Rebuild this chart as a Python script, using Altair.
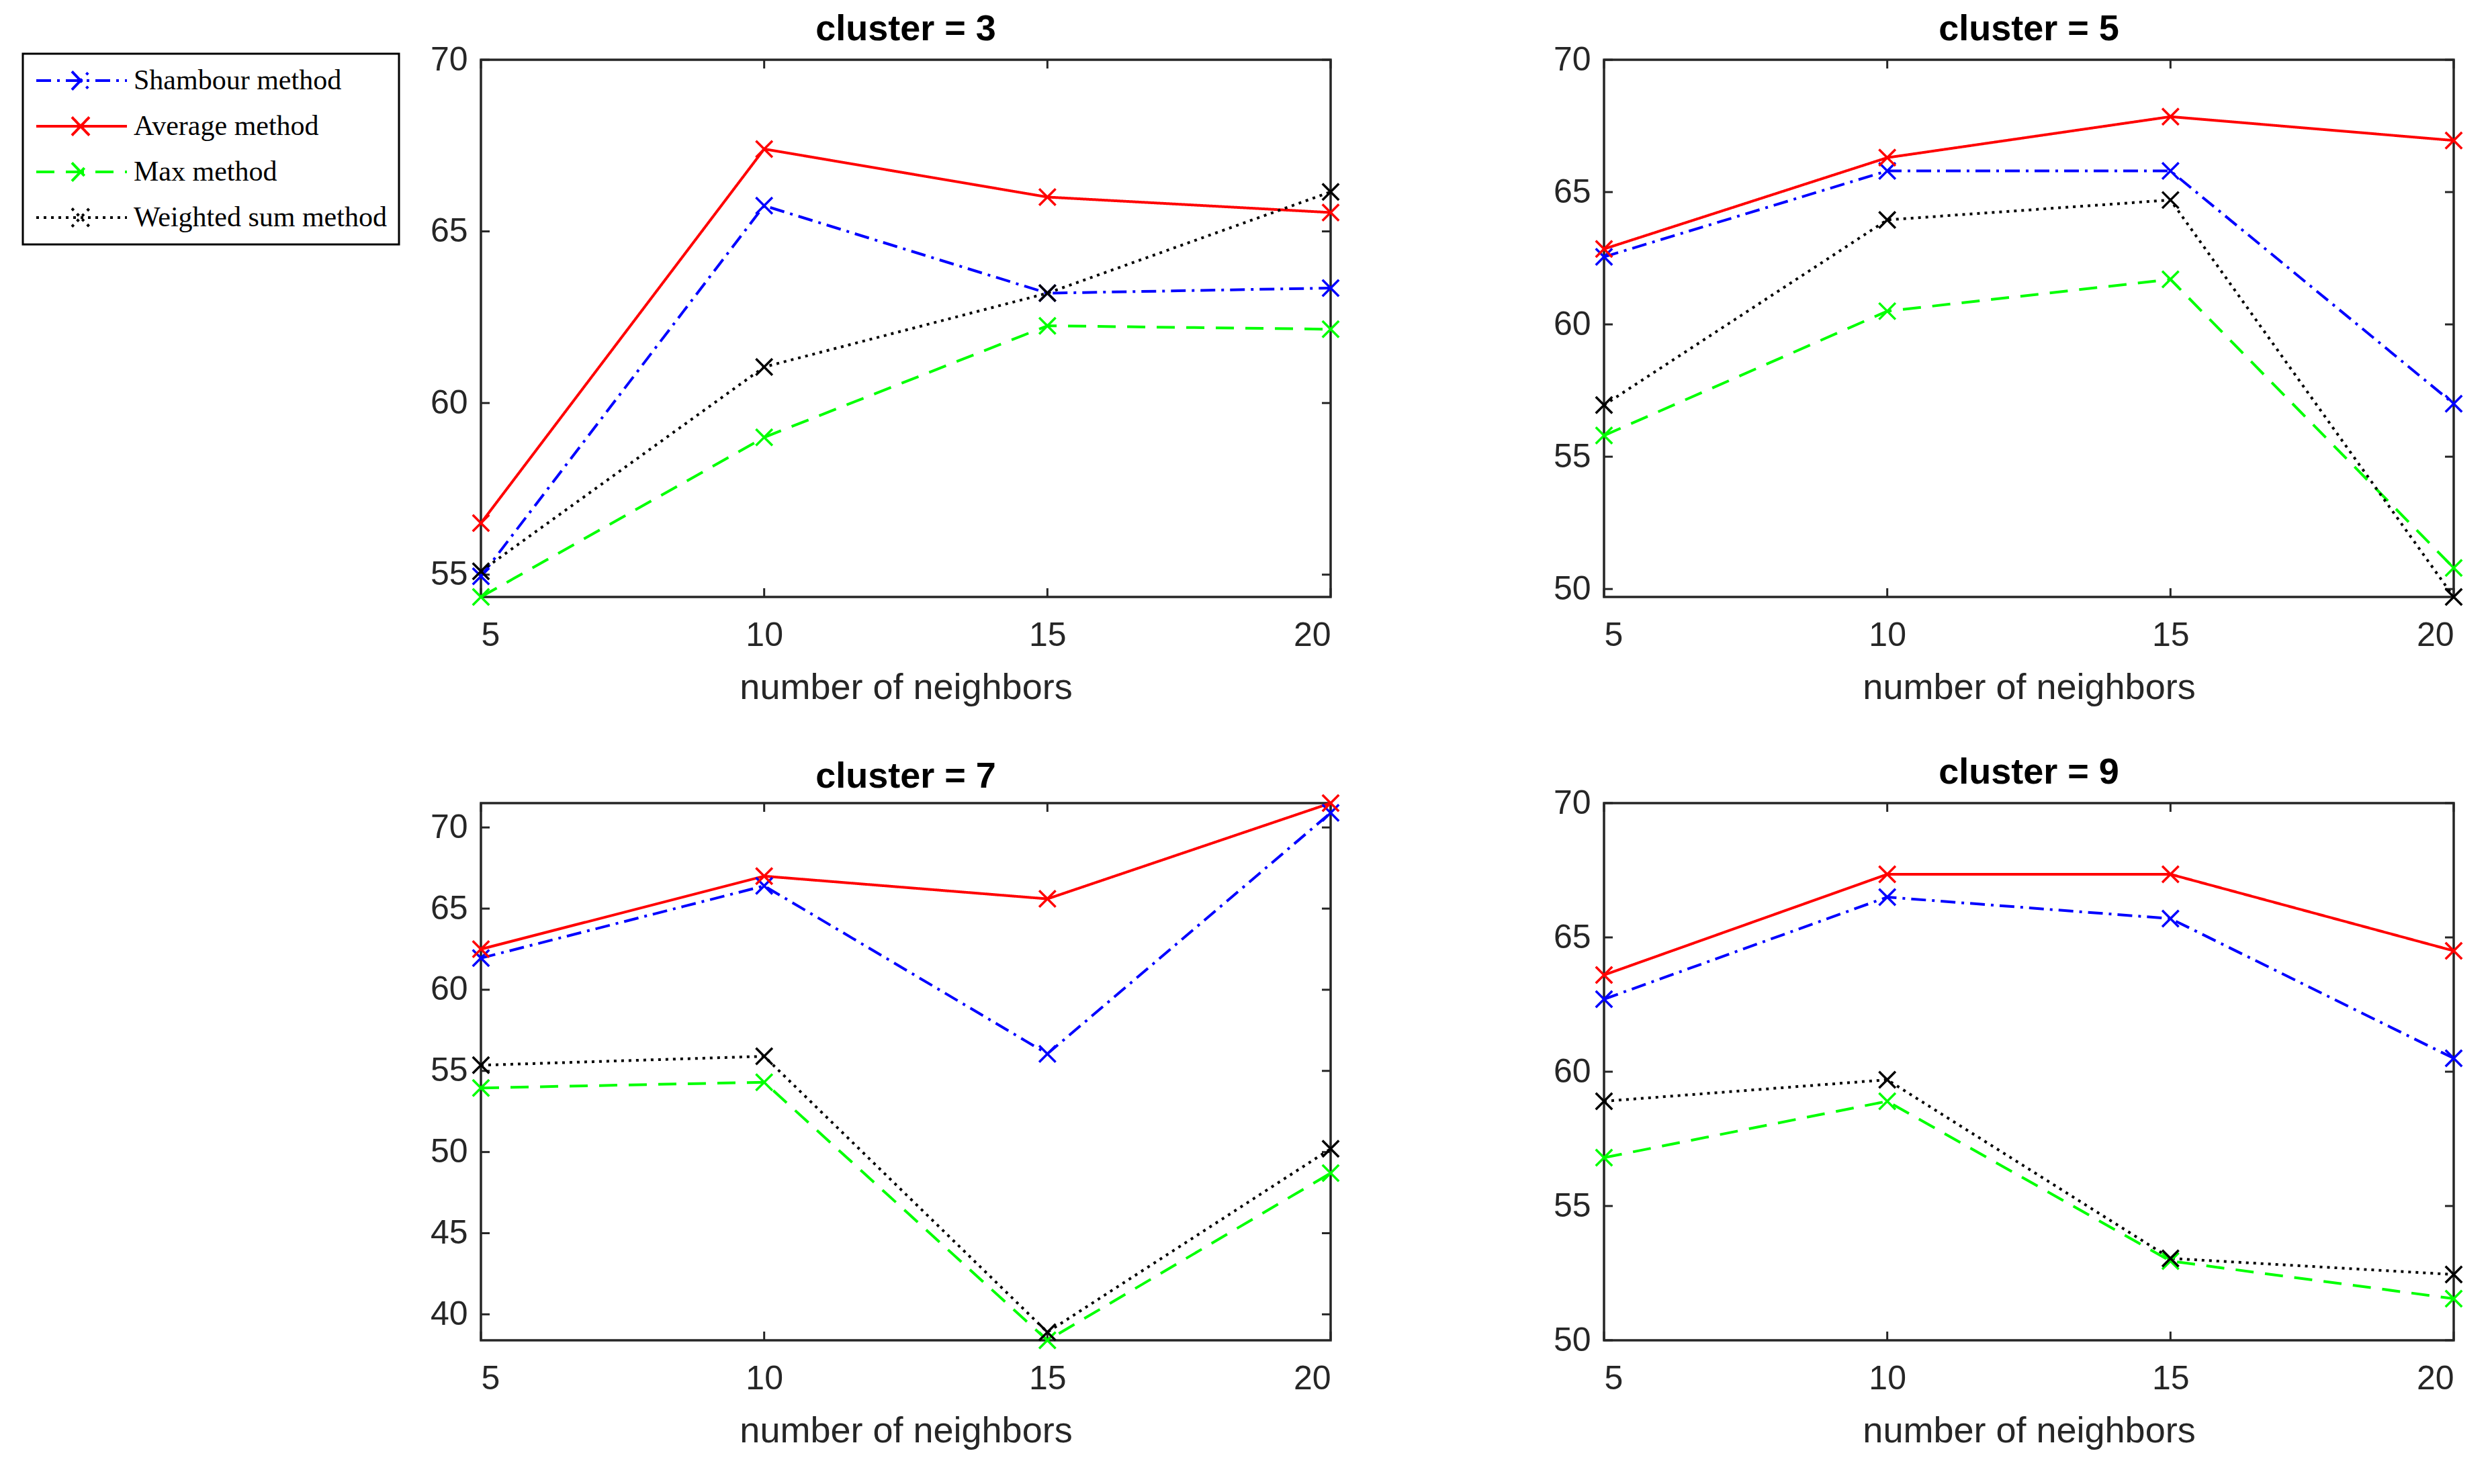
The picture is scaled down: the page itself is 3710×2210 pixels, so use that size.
import altair as alt
import pandas as pd

# ---------------- data ----------------
ks = [5, 10, 15, 20]
methods = ["Shambour method", "Average method", "Max method", "Weighted sum method"]
clusters = [3, 5, 7, 9]

c3_shambour = [54.95, 65.75, 63.2, 63.35]
c3_average = [56.5, 67.4, 66.0, 65.55]
c3_max = [54.35, 59.0, 62.25, 62.15]
c3_weighted = [55.1, 61.05, 63.2, 66.15]

c5_shambour = [62.55, 65.8, 65.8, 57.0]
c5_average = [62.85, 66.3, 67.85, 66.95]
c5_max = [55.8, 60.5, 61.7, 50.8]
c5_weighted = [56.95, 63.95, 64.7, 49.7]

c7_shambour = [61.95, 66.4, 56.05, 70.9]
c7_average = [62.5, 67.0, 65.6, 71.5]
c7_max = [53.95, 54.3, 38.4, 48.7]
c7_weighted = [55.35, 55.9, 38.9, 50.2]

c9_shambour = [62.7, 66.5, 65.7, 60.5]
c9_average = [63.6, 67.35, 67.35, 64.5]
c9_max = [56.8, 58.9, 52.95, 51.55]
c9_weighted = [58.9, 59.7, 53.05, 52.45]

y_ticks = {3: [55, 60, 65, 70], 5: [50, 55, 60, 65, 70],
           7: [40, 45, 50, 55, 60, 65, 70], 9: [50, 55, 60, 65, 70]}
y_domains = {3: [54.35, 70], 5: [49.7, 70], 7: [38.4, 71.5], 9: [50, 70]}
x_ticks = [5, 10, 15, 20]

series = {
    3: [c3_shambour, c3_average, c3_max, c3_weighted],
    5: [c5_shambour, c5_average, c5_max, c5_weighted],
    7: [c7_shambour, c7_average, c7_max, c7_weighted],
    9: [c9_shambour, c9_average, c9_max, c9_weighted],
}

rows = []
for c in clusters:
    for m, vals in zip(methods, series[c]):
        for k, v in zip(ks, vals):
            rows.append({"cluster": c, "method": m, "k": k, "value": v})
df = pd.DataFrame(rows)

# ---------------- styles ----------------
colors = ["#0000ff", "#ff0000", "#00ff00", "#000000"]
dashes = [[22, 9, 4, 9], [1, 0], [27, 17], [4, 7]]
SANS = "Liberation Sans Narrow, Arial Narrow, Liberation Sans, Arial, sans-serif"
SERIF = "Liberation Serif, Times New Roman, serif"
AXC = "#262626"
W, H = 1265, 800
TL = 13  # inward tick length
XMARK = "M-1,-1L1,1M-1,1L1,-1"
# legend sample: line segment with an x marker, drawn right of the symbol anchor
LEG_SYMBOL = "M-1,0H5.75M1.65,-0.68L2.95,0.68M1.65,0.68L2.95,-0.68"

xaxis = alt.Axis(values=x_ticks, title="number of neighbors", grid=False, domain=False,
                 tickSize=0, labelPadding=32, labelFont=SANS, labelFontSize=50,
                 labelColor=AXC, titleFont=SANS, titleFontSize=54, titleFontWeight="normal",
                 titleColor=AXC, titlePadding=26)


def yaxis(c):
    return alt.Axis(values=y_ticks[c], title=None, grid=False, domain=False, tickSize=0,
                    labelPadding=20, labelFont=SANS, labelFontSize=50, labelColor=AXC)


legend = alt.Legend(title=None, orient="none", legendX=-682, legendY=-9,
                    symbolType=LEG_SYMBOL, symbolSize=1600, symbolStrokeWidth=4,
                    labelFont=SERIF, labelFontSize=42, labelColor="black",
                    labelOffset=103, padding=18, rowPadding=24, strokeColor="black",
                    fillColor="white", labelLimit=0)


def panel(c, show_legend):
    d = df[df.cluster == c]
    xs = alt.Scale(domain=[5, 20], nice=False, zero=False)
    ys = alt.Scale(domain=y_domains[c], nice=False, zero=False)
    X = alt.X("k:Q", scale=xs, axis=xaxis)
    Y = alt.Y("value:Q", scale=ys, axis=yaxis(c))
    color = alt.Color("method:N", scale=alt.Scale(domain=methods, range=colors),
                      legend=legend if show_legend else None)
    dash = alt.StrokeDash("method:N", scale=alt.Scale(domain=methods, range=dashes),
                          legend=legend if show_legend else None)
    base = alt.Chart(d)
    lines = base.mark_line(strokeWidth=4).encode(x=X, y=Y, color=color, strokeDash=dash)
    pts = base.mark_point(shape=XMARK, filled=False, size=600, strokeWidth=3.5,
                          opacity=1).encode(x=X, y=Y, color=color)

    ty = alt.Chart(pd.DataFrame({"v": y_ticks[c]}))
    YT = alt.Y("v:Q", scale=ys, axis=yaxis(c))
    tick_l = ty.mark_rule(color=AXC, strokeWidth=3).encode(
        y=YT, x=alt.value(0), x2=alt.value(TL))
    tick_r = ty.mark_rule(color=AXC, strokeWidth=3).encode(
        y=YT, x=alt.value(W - TL), x2=alt.value(W))
    tx = alt.Chart(pd.DataFrame({"v": x_ticks}))
    XT = alt.X("v:Q", scale=xs, axis=xaxis)
    tick_b = tx.mark_rule(color=AXC, strokeWidth=3).encode(
        x=XT, y=alt.value(H - TL), y2=alt.value(H))
    tick_t = tx.mark_rule(color=AXC, strokeWidth=3).encode(
        x=XT, y=alt.value(0), y2=alt.value(TL))

    return alt.layer(tick_l, tick_r, tick_b, tick_t, lines, pts).properties(
        width=W, height=H,
        title=alt.TitleParams(f"cluster = {c}", font=SANS, fontSize=54, fontWeight="bold",
                              color="black", offset=-50, frame="group",
                              baseline="alphabetic", anchor="middle"))


chart = alt.concat(
    panel(3, True), panel(5, False), panel(7, False), panel(9, False),
    columns=2, bounds="flush", spacing={"row": 307, "column": 407},
).resolve_scale(
    x="independent", y="independent", color="independent", strokeDash="independent"
).resolve_legend(
    color="independent", strokeDash="independent"
).properties(
    padding={"left": 22, "top": 7, "right": 5, "bottom": 5}
).configure_view(
    stroke=AXC, strokeWidth=3.5
).configure_legend(
    strokeWidth=3
)

chart.save("out.html", embed_options={"renderer": "svg", "actions": False})
